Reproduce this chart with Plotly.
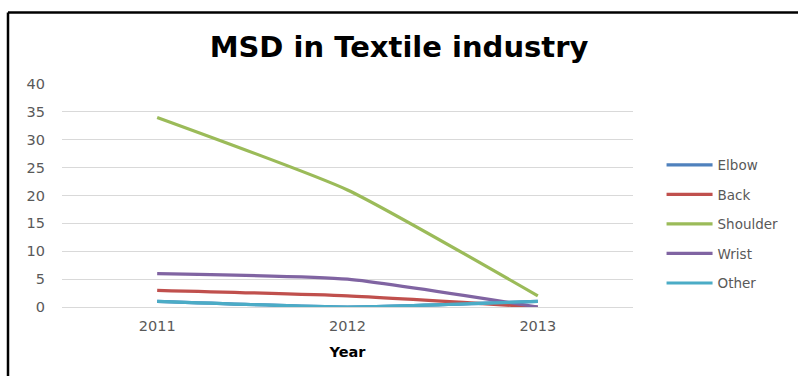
import plotly.graph_objects as go

# Reported musculoskeletal disorder cases by body region
years = ["2011", "2012", "2013"]
elbow = [1, 0, 1]
back = [3, 2, 0]
shoulder = [34, 21, 2]
wrist = [6, 5, 0]
other = [1, 0, 1]

series = [
    ("Elbow", elbow, "#4F81BD"),
    ("Back", back, "#C0504D"),
    ("Shoulder", shoulder, "#9BBB59"),
    ("Wrist", wrist, "#8064A2"),
    ("Other", other, "#4BACC6"),
]

fig = go.Figure()
for i, (name, vals, color) in enumerate(series):
    fig.add_trace(go.Scatter(
        x=years, y=vals, name=name, mode="lines",
        line=dict(color=color, width=3.2, shape="spline", smoothing=0.5),
        legendgroup=f"g{i}",
    ))

tick_font = dict(family="DejaVu Sans, sans-serif", size=14.5, color="#595959")

fig.update_layout(
    width=798, height=376,
    margin=dict(l=62, r=165, t=84, b=69),
    paper_bgcolor="white", plot_bgcolor="white",
    title=dict(
        text="<b>MSD in Textile industry</b>",
        font=dict(family="DejaVu Sans, sans-serif", size=29, color="black"),
        x=0.5, xref="container", xanchor="center",
        y=1 - 47 / 376, yref="container", yanchor="middle",
    ),
    xaxis=dict(
        type="category", range=[-0.5, 2.5],
        showgrid=False, showline=False, zeroline=False,
        ticks="", tickfont=tick_font, ticklabelstandoff=8,
        title=dict(text="<b>Year</b>", font=dict(family="DejaVu Sans, sans-serif", size=14.5, color="black"), standoff=14),
    ),
    yaxis=dict(
        range=[0, 40], dtick=5, showgrid=True, gridcolor="#D9D9D9", gridwidth=1,
        zeroline=True, zerolinecolor="#D9D9D9", zerolinewidth=1,
        showline=False, ticks="", tickfont=tick_font, ticklabelstandoff=16,
    ),
    legend=dict(
        x=1.05, xanchor="left", y=0.372, yanchor="middle",
        traceorder="grouped", tracegroupgap=9,
        font=dict(family="DejaVu Sans, sans-serif", size=13.5, color="#595959"),
        itemwidth=46, bgcolor="rgba(0,0,0,0)",
    ),
    showlegend=True,
)

# Chart frame (left and top edges)
px_w, px_h = 798 - 62 - 165, 376 - 84 - 69
fx = (8 - 62) / px_w
fy = (307 - 12.5) / px_h
fig.add_shape(type="line", xref="paper", yref="paper", x0=fx, x1=(798 - 62) / px_w + 0.01,
              y0=fy, y1=fy, line=dict(color="black", width=2.5))
fig.add_shape(type="line", xref="paper", yref="paper", x0=fx, x1=fx,
              y0=fy, y1=-(376 - 307) / px_h - 0.05, line=dict(color="black", width=2.5))

fig.write_html("out.html")
